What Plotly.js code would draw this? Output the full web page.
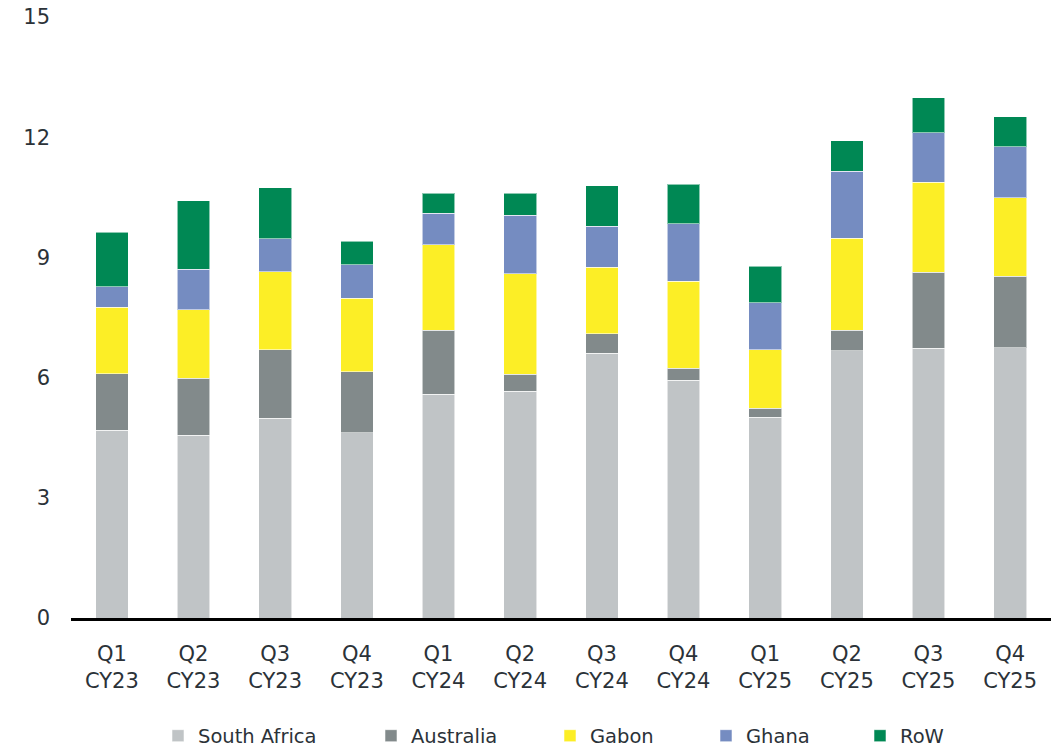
<!DOCTYPE html>
<html>
<head>
<meta charset="utf-8">
<script src="https://cdn.plot.ly/plotly-3.0.1.min.js"></script>
<style>html,body{margin:0;padding:0;background:#fff;}#chart{width:1051px;height:751px;}</style>
</head>
<body>
<div id="chart"></div>
<script>
const categories = ["Q1<br>CY23","Q2<br>CY23","Q3<br>CY23","Q4<br>CY23","Q1<br>CY24","Q2<br>CY24","Q3<br>CY24","Q4<br>CY24","Q1<br>CY25","Q2<br>CY25","Q3<br>CY25","Q4<br>CY25"];
const seriesNames = ["South Africa","Australia","Gabon","Ghana","RoW"];
const southAfrica = [4.68, 4.56, 4.99, 4.62, 5.58, 5.66, 6.61, 5.93, 5.01, 6.67, 6.73, 6.75];
const australia   = [1.42, 1.43, 1.70, 1.53, 1.60, 0.42, 0.48, 0.30, 0.22, 0.51, 1.90, 1.78];
const gabon       = [1.66, 1.70, 1.95, 1.83, 2.13, 2.51, 1.66, 2.17, 1.47, 2.30, 2.25, 1.96];
const ghana       = [0.51, 1.02, 0.82, 0.84, 0.79, 1.46, 1.03, 1.44, 1.17, 1.67, 1.23, 1.27];
const row         = [1.36, 1.71, 1.28, 0.58, 0.50, 0.55, 1.01, 0.98, 0.91, 0.76, 0.87, 0.75];
const colors = ["#c0c4c6","#828a8b","#fcee26","#758cc1","#008854"];
const values = [southAfrica, australia, gabon, ghana, row];
const legendIds = ["legend","legend2","legend3","legend4","legend5"];
const legendX = [158, 371, 550, 706, 860];

const traces = values.map((v, i) => ({
  type: "bar",
  name: seriesNames[i],
  x: categories,
  y: v,
  legend: legendIds[i],
  marker: {color: colors[i], line: {width: 1, color: "rgba(255,255,255,0.55)"}},
  hoverinfo: "x+y+name"
}));

const font = {family: "'DejaVu Sans', sans-serif", color: "#2b3238"};
const layout = {
  width: 1051, height: 751,
  barmode: "stack",
  bargap: 0.6,
  margin: {l: 71, r: 0, t: 17, b: 133, autoexpand: false},
  paper_bgcolor: "#fff", plot_bgcolor: "#fff",
  font: Object.assign({size: 20}, font),
  showlegend: true,
  xaxis: {
    type: "category",
    showline: true, linecolor: "#000", linewidth: 2.5,
    showgrid: false, zeroline: false, ticks: "",
    tickfont: Object.assign({size: 21}, font),
    ticklabelstandoff: 15
  },
  yaxis: {
    range: [0, 15], tickvals: [0,3,6,9,12,15],
    showgrid: false, zeroline: false, showline: false, ticks: "",
    tickfont: Object.assign({size: 21}, font),
    ticklabelstandoff: 20
  }
};
legendIds.forEach((id, i) => {
  layout[id] = {
    orientation: "h",
    xref: "container", yref: "container",
    x: legendX[i] / 1051, xanchor: "left",
    y: 15 / 751, yanchor: "middle",
    font: Object.assign({size: 19.5}, font),
    bgcolor: "rgba(0,0,0,0)"
  };
});
Plotly.newPlot("chart", traces, layout, {displayModeBar: false, staticPlot: true});
</script>
</body>
</html>
